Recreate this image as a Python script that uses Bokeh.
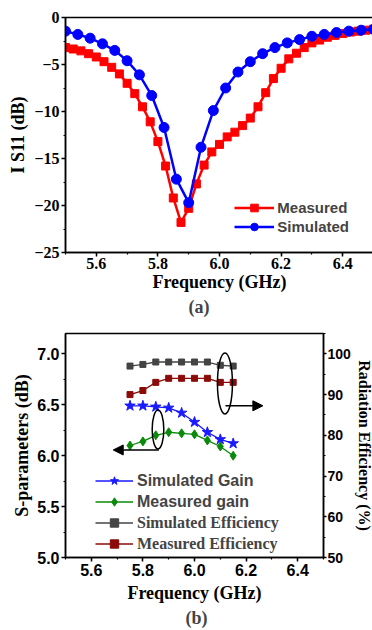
from bokeh.plotting import figure
from bokeh.layouts import column
from bokeh.models import (Range1d, LinearAxis, SingleIntervalTicker, NumeralTickFormatter,
                          Legend, LegendItem, Arrow, NormalHead, Title)
from bokeh.embed import file_html
from bokeh.resources import INLINE

# ---------------- (a) |S11| data ----------------
freq_meas = [5.500, 5.525, 5.550, 5.575, 5.600, 5.625, 5.650, 5.675, 5.700, 5.725,
             5.750, 5.775, 5.800, 5.825, 5.850, 5.875, 5.900, 5.925, 5.950, 5.975,
             6.000, 6.025, 6.050, 6.075, 6.100, 6.125, 6.150, 6.175, 6.200, 6.225,
             6.250, 6.275, 6.300, 6.325, 6.350, 6.375, 6.400, 6.425, 6.450, 6.475, 6.500]
s11_meas = [-3.2, -3.35, -3.55, -3.85, -4.2, -4.7, -5.3, -6.0, -7.0, -8.1,
            -9.5, -11.1, -13.2, -15.8, -19.2, -21.8, -20.3, -17.7, -15.7, -14.3,
            -13.5, -12.7, -12.2, -11.5, -10.7, -9.5, -8.0, -6.5, -5.4, -4.4,
            -3.8, -3.2, -2.7, -2.4, -2.1, -1.9, -1.7, -1.55, -1.45, -1.35, -1.25]
freq_sim = [5.50, 5.54, 5.58, 5.62, 5.66, 5.70, 5.74, 5.78, 5.82, 5.86,
            5.90, 5.94, 5.98, 6.02, 6.06, 6.10, 6.14, 6.18, 6.22, 6.26,
            6.30, 6.34, 6.38, 6.42, 6.46, 6.50]
s11_sim = [-1.45, -1.8, -2.2, -2.8, -3.5, -4.6, -6.1, -8.3, -11.7, -17.2,
           -19.7, -13.8, -9.9, -7.5, -5.8, -4.7, -3.85, -3.2, -2.7, -2.35,
           -2.0, -1.8, -1.6, -1.45, -1.35, -1.25]

# ---------------- (b) gain / efficiency data ----------------
freq_b = [5.75, 5.80, 5.85, 5.90, 5.95, 6.00, 6.05, 6.10, 6.15]
gain_sim = [6.49, 6.49, 6.48, 6.47, 6.42, 6.33, 6.23, 6.16, 6.12]
gain_meas = [6.10, 6.14, 6.20, 6.23, 6.22, 6.21, 6.15, 6.09, 6.00]
eff_sim = [97.0, 97.4, 98.0, 98.0, 98.0, 98.0, 98.0, 97.2, 97.0]
eff_meas = [90.0, 91.0, 93.0, 94.0, 94.0, 94.0, 94.0, 93.0, 93.0]

# annotation ellipses / arrows (data coordinates)
ell_x = [6.118, 5.8585]
ell_y = [6.71, 6.257]
ell_w = [0.058, 0.045]
ell_h = [0.60, 0.382]
arrow_eff = (6.12, 6.49, 6.265, 6.49)
arrow_gain = (5.862, 6.056, 5.685, 6.056)

SERIF = "Liberation Serif"
SANS = "Liberation Sans"


def style_axis(ax, font, size):
    ax.axis_line_width = 1.5
    ax.axis_line_color = "black"
    ax.major_tick_line_width = 1.5
    ax.minor_tick_line_width = 1.2
    ax.major_tick_in = 0
    ax.major_tick_out = 4
    ax.minor_tick_in = 0
    ax.minor_tick_out = 2
    ax.major_label_standoff = 2
    ax.major_label_text_font = font
    ax.major_label_text_font_style = "bold"
    ax.major_label_text_font_size = size
    ax.major_label_text_color = "black"
    ax.axis_label_text_font = SERIF
    ax.axis_label_text_font_style = "bold"
    ax.axis_label_text_font_size = "18px"
    ax.axis_label_text_color = "black"
    ax.axis_label_standoff = 0


# ================= figure (a) =================
p1 = figure(frame_width=308, frame_height=235, x_range=Range1d(5.5, 6.5), y_range=Range1d(-25, 0),
            output_backend="svg", toolbar_location=None,
            min_border_left=62, min_border_right=2, min_border_top=17, min_border_bottom=66)
p1.xgrid.visible = False
p1.ygrid.visible = False
p1.outline_line_color = "black"
p1.outline_line_width = 1.5
p1.xaxis.ticker = SingleIntervalTicker(interval=0.2, num_minor_ticks=2)
p1.xaxis.formatter = NumeralTickFormatter(format="0.0")
p1.yaxis.ticker = SingleIntervalTicker(interval=5, num_minor_ticks=2)
p1.xaxis.axis_label = "Frequency (GHz)"
p1.yaxis.axis_label = "I S11 (dB)"
for ax in p1.xaxis + p1.yaxis:
    style_axis(ax, SERIF, "16px")
p1.yaxis.axis_label_standoff = 3
p1.xaxis.major_label_standoff = 1

lm = p1.line(freq_meas, s11_meas, line_color="#ff0000", line_width=2.5)
sm = p1.scatter(freq_meas, s11_meas, marker="square", size=8, color="#ff0000")
ls = p1.line(freq_sim, s11_sim, line_color="#0000ff", line_width=2.5)
ss = p1.scatter(freq_sim, s11_sim, marker="circle", size=10, color="#0000ff")

leg1 = Legend(items=[LegendItem(label="Measured", renderers=[lm, sm]),
                     LegendItem(label="Simulated", renderers=[ls, ss])],
              location=(173, 16), padding=0, spacing=0, margin=0,
              glyph_width=40, glyph_height=19, label_height=19, label_standoff=3,
              background_fill_alpha=0, border_line_alpha=0,
              label_text_font=SANS, label_text_font_style="bold", label_text_font_size="15px")
p1.add_layout(leg1)
p1.add_layout(Title(text="(a)", align="left", offset=123, standoff=0, text_font=SERIF,
                    text_font_style="bold", text_font_size="18px"), "below")

# ================= figure (b) =================
p2 = figure(frame_width=258, frame_height=224, x_range=Range1d(5.5, 6.5), y_range=Range1d(5.0, 7.2),
            output_backend="svg", toolbar_location=None,
            min_border_left=65, min_border_right=49, min_border_top=15, min_border_bottom=73)
p2.extra_y_ranges = {"eff": Range1d(50, 105)}
p2.xgrid.visible = False
p2.ygrid.visible = False
p2.outline_line_color = "black"
p2.outline_line_width = 1.5
p2.xaxis.ticker = SingleIntervalTicker(interval=0.2, num_minor_ticks=2)
p2.xaxis.formatter = NumeralTickFormatter(format="0.0")
p2.yaxis.ticker = SingleIntervalTicker(interval=0.5, num_minor_ticks=2)
p2.yaxis.formatter = NumeralTickFormatter(format="0.0")
p2.xaxis.axis_label = "Frequency (GHz)"
p2.yaxis.axis_label = "S-parameters (dB)"
right_ax = LinearAxis(y_range_name="eff", axis_label="Radiation Efficiency (%)",
                      ticker=SingleIntervalTicker(interval=10, num_minor_ticks=2))
p2.add_layout(right_ax, "right")
for ax in p2.xaxis + p2.yaxis + [right_ax]:
    style_axis(ax, SANS, "16px")
p2.xaxis.axis_label_standoff = 4
p2.yaxis.axis_label_standoff = 2
right_ax.major_label_text_font_size = "14px"
right_ax.major_label_standoff = 1
right_ax.major_tick_out = 3
right_ax.axis_label_text_font_size = "16px"
right_ax.axis_label_orientation = "vertical"

lgs = p2.line(freq_b, gain_sim, line_color="#1a1aff", line_width=1.3)
sgs = p2.scatter(freq_b, gain_sim, marker="star", size=11, color="#1a1aff")
lgm = p2.line(freq_b, gain_meas, line_color="#0a8a0a", line_width=1.3)
sgm = p2.scatter(freq_b, gain_meas, marker="diamond", size=9, color="#0a8a0a")
les = p2.line(freq_b, eff_sim, line_color="#444444", line_width=1.3, y_range_name="eff")
ses = p2.scatter(freq_b, eff_sim, marker="square", size=6, color="#444444", y_range_name="eff")
lem = p2.line(freq_b, eff_meas, line_color="#8b0a0a", line_width=1.3, y_range_name="eff")
sem = p2.scatter(freq_b, eff_meas, marker="square", size=6, color="#8b0a0a", y_range_name="eff")

p2.ellipse(x=ell_x, y=ell_y, width=ell_w, height=ell_h, fill_alpha=0,
           line_color="black", line_width=1.5)
p2.add_layout(Arrow(end=NormalHead(size=10, fill_color="black", line_color="black"),
                    x_start=arrow_eff[0], y_start=arrow_eff[1],
                    x_end=arrow_eff[2], y_end=arrow_eff[3], line_width=1.5))
p2.add_layout(Arrow(end=NormalHead(size=10, fill_color="black", line_color="black"),
                    x_start=arrow_gain[0], y_start=arrow_gain[1],
                    x_end=arrow_gain[2], y_end=arrow_gain[3], line_width=1.5))

common = dict(padding=0, spacing=0, margin=0, glyph_width=38, glyph_height=21,
              label_height=21, label_standoff=4, background_fill_alpha=0, border_line_alpha=0)
leg2 = Legend(items=[LegendItem(label="Simulated Gain", renderers=[lgs, sgs]),
                     LegendItem(label="Measured gain", renderers=[lgm, sgm])],
              location=(30, 45), label_text_font=SANS, label_text_font_style="bold",
              label_text_font_size="16px", **common)
leg3 = Legend(items=[LegendItem(label="Simulated Efficiency", renderers=[les, ses]),
                     LegendItem(label="Measured Efficiency", renderers=[lem, sem])],
              location=(30, 3), label_text_font=SERIF, label_text_font_style="bold",
              label_text_font_size="16px", **common)
p2.add_layout(leg2)
p2.add_layout(leg3)
p2.add_layout(Title(text="(b)", align="left", offset=120, standoff=0, text_font=SERIF,
                    text_font_style="bold", text_font_size="18px"), "below")

layout = column(p1, p2, spacing=0)
open("out.html", "w").write(file_html(layout, INLINE))
